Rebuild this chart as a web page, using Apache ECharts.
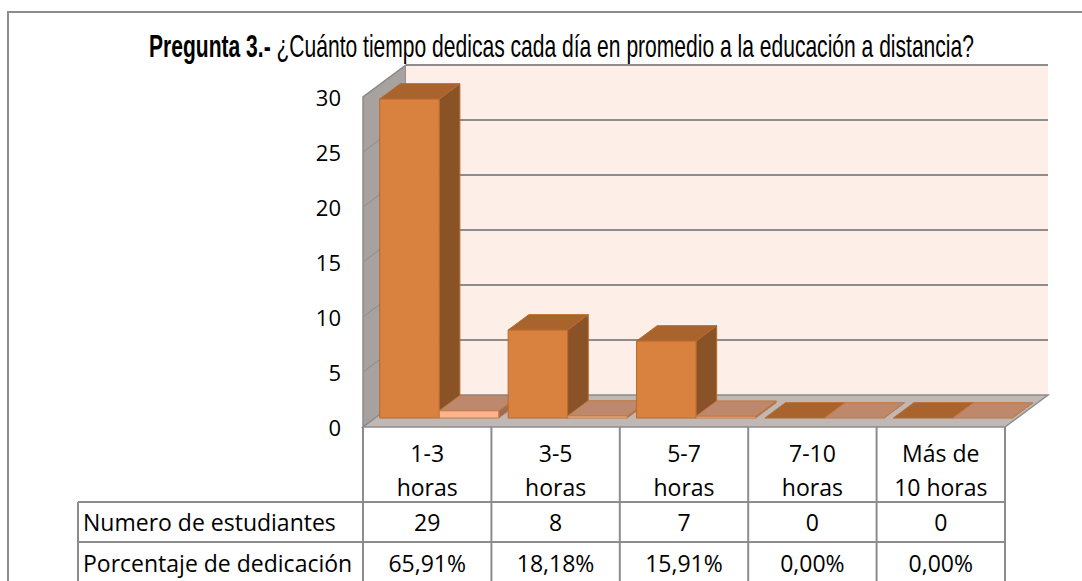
<!DOCTYPE html>
<html><head><meta charset="utf-8">
<script src="https://cdn.jsdelivr.net/npm/echarts@6/dist/echarts.min.js"></script>
<style>html,body{margin:0;padding:0;background:#fff}#c{width:1082px;height:581px}</style>
</head><body><div id="c"></div>
<script>
// ---------- data ----------
const titleBold = 'Pregunta 3.-';
const titleRest = '¿Cuánto tiempo dedicas cada día en promedio a la educación a distancia?';
const categories = ['1-3\nhoras', '3-5\nhoras', '5-7\nhoras', '7-10\nhoras', 'Más de\n10 horas'];
const seriesNames = ['Numero de estudiantes', 'Porcentaje de dedicación'];
const students = [29, 8, 7, 0, 0];
const percentages = [65.91, 18.18, 15.91, 0.00, 0.00];
const yMin = 0, yMax = 30, yInterval = 5;

// ---------- styling / projection constants ----------
const DEPTH = { x: 43, y: -32 };      // 3D depth offset of the back wall (px)
const BAR_Z0 = 0.28, BAR_Z1 = 0.76;   // bar depth range (fraction of depth)
const GAP = 0.073;                    // category gap fraction
const LINE = '#8c8c8c';
const COLORS = [
  { front: '#d9823f', top: '#a9642e', side: '#8a5227', edge: '#b8692b' },
  { front: '#fdb48c', top: '#bd886c', side: '#9c6c53', edge: '#c27a45' }
];
const TABLE_LEFT = 78, HDR_H = 75, ROW_H = 40;
const TXT_FONT = '"Open Sans", sans-serif';

const fmtPct = v => v.toFixed(2).replace('.', ',') + '%';

function wallsItem(params, api) {
  const cs = params.coordSys;
  const L = cs.x, R = cs.x + cs.width;
  const y0 = api.coord([0, yMin])[1], yT = api.coord([0, yMax])[1];
  const dx = DEPTH.x, dy = DEPTH.y;
  const ch = [];
  ch.push({ type: 'polygon', shape: { points: [[L, y0], [L, yT], [L + dx, yT + dy], [L + dx, y0 + dy]] },
    style: { fill: '#a7a29f', stroke: LINE, lineWidth: 1.5 } });
  ch.push({ type: 'rect', shape: { x: L + dx, y: yT + dy, width: R - L, height: y0 - yT },
    style: { fill: '#fdeee8' } });
  for (let v = yMin + yInterval; v <= yMax; v += yInterval) {
    const y = api.coord([0, v])[1];
    ch.push({ type: 'line', shape: { x1: L, y1: y, x2: L + dx, y2: y + dy }, style: { stroke: '#8f8b89', lineWidth: 1 } });
    ch.push({ type: 'line', shape: { x1: L + dx, y1: y + dy, x2: R + dx, y2: y + dy }, style: { stroke: LINE, lineWidth: 2 } });
  }
  ch.push({ type: 'polygon', shape: { points: [[L, y0], [L + dx, y0 + dy], [R + dx, y0 + dy], [R, y0]] },
    style: { fill: '#c0b8b5', stroke: LINE, lineWidth: 1.5 } });
  return { type: 'group', children: ch };
}

function barItem(s) {
  return function (params, api) {
    const i = api.value(0), v = api.value(1);
    const base = api.coord([i, 0]);
    const top = api.coord([i, v]);
    const band = api.size([1, 0])[0];
    const bw = band * (1 - GAP) / 2;
    const ax = DEPTH.x * BAR_Z0, ay = DEPTH.y * BAR_Z0;
    const bx = DEPTH.x * (BAR_Z1 - BAR_Z0), by = DEPTH.y * (BAR_Z1 - BAR_Z0);
    const xl = base[0] - band / 2 + band * GAP / 2 + s * bw + ax;
    const xr = xl + bw;
    const yb = base[1] + ay, yt = top[1] + ay;
    const c = COLORS[s];
    const z = i * 10 + s * 3;
    const ch = [];
    ch.push({ type: 'polygon', z2: z, shape: { points: [[xr, yb], [xr, yt], [xr + bx, yt + by], [xr + bx, yb + by]] },
      style: { fill: c.side, stroke: c.edge, lineWidth: 1 } });
    ch.push({ type: 'polygon', z2: z + 1, shape: { points: [[xl, yt], [xr, yt], [xr + bx, yt + by], [xl + bx, yt + by]] },
      style: { fill: c.top, stroke: c.edge, lineWidth: 1 } });
    if (yb - yt > 0.5) {
      ch.push({ type: 'rect', z2: z + 2, shape: { x: xl, y: yt, width: bw, height: yb - yt },
        style: { fill: c.front, stroke: c.edge, lineWidth: 1 } });
    }
    return { type: 'group', children: ch };
  };
}

function tableItem(params, api) {
  const i = api.value(0);
  const band = api.size([1, 0])[0];
  const cx = api.coord([i, 0])[0], y0 = api.coord([i, 0])[1];
  const xl = cx - band / 2, xr = cx + band / 2;
  const yH = y0 + HDR_H, y1 = yH + ROW_H, y2 = y1 + ROW_H;
  const ch = [];
  const ln = (x1, y1_, x2, y2_) => ch.push({ type: 'line', shape: { x1, y1: y1_, x2, y2: y2_ }, style: { stroke: LINE, lineWidth: 2 } });
  const tx = (text, x, y, align) => ch.push({ type: 'text', x, y,
    style: { text, fill: '#000', fontSize: 23, fontFamily: TXT_FONT, align: align || 'center', verticalAlign: 'middle', lineHeight: 34 } });
  ln(xr, y0, xr, y2 + 10);
  ln(xl, yH, xr, yH);
  ln(xl, y1, xr, y1);
  if (i === 0) {
    ln(xl, y0, xl, y2 + 10);
    ln(TABLE_LEFT, yH, xl, yH);
    ln(TABLE_LEFT, y1, xl, y1);
    ln(TABLE_LEFT, yH, TABLE_LEFT, y2 + 10);
    tx(seriesNames[0], TABLE_LEFT + 5, (yH + y1) / 2, 'left');
    tx(seriesNames[1], TABLE_LEFT + 5, (y1 + y2) / 2 + 1, 'left');
  }
  tx(categories[i], cx, y0 + 43);
  tx(String(students[i]), cx, (yH + y1) / 2);
  tx(fmtPct(percentages[i]), cx, (y1 + y2) / 2 + 1);
  return { type: 'group', children: ch };
}

// ---------- title measurement ----------
const TITLE_FONT = '"Liberation Sans", Arial, sans-serif';
const TITLE_SIZE = 32;
const mctx = document.createElement('canvas').getContext('2d');
mctx.font = 'bold ' + TITLE_SIZE + 'px ' + TITLE_FONT;
const wBold = mctx.measureText(titleBold + ' ').width;
mctx.font = TITLE_SIZE + 'px ' + TITLE_FONT;
const wRest = mctx.measureText(titleRest).width;
const TITLE_X = 149, TITLE_W = 825, TITLE_Y = 46;
const sx = TITLE_W / (wBold + wRest);

const chart = echarts.init(document.getElementById('c'), null, { renderer: 'svg' });
chart.setOption({
  animation: false,
  backgroundColor: '#ffffff',
  grid: { left: 363, right: 77, top: 97, bottom: 154 },
  xAxis: { type: 'category', data: categories, axisLabel: { show: false }, axisLine: { show: false }, axisTick: { show: false } },
  yAxis: { type: 'value', min: yMin, max: yMax, interval: yInterval,
    axisLabel: { color: '#000', fontSize: 22, fontFamily: TXT_FONT, margin: 22 },
    axisLine: { show: false }, axisTick: { show: false }, splitLine: { show: false } },
  graphic: [
    { type: 'rect', z: -10, silent: true, shape: { x: 8, y: 12, width: 1100, height: 620 },
      style: { fill: 'none', stroke: LINE, lineWidth: 2 } },
    { type: 'text', x: TITLE_X, y: TITLE_Y, scaleX: sx, silent: true,
      style: { text: titleBold, fill: '#000', fontSize: TITLE_SIZE, fontWeight: 'bold', fontFamily: TITLE_FONT, align: 'left', verticalAlign: 'middle' } },
    { type: 'text', x: TITLE_X + wBold * sx, y: TITLE_Y, scaleX: sx, silent: true,
      style: { text: titleRest, fill: '#000', fontSize: TITLE_SIZE, fontFamily: TITLE_FONT, align: 'left', verticalAlign: 'middle' } }
  ],
  series: [
    { type: 'custom', name: 'walls', z: 1, silent: true, renderItem: wallsItem, data: [[0, 0]], encode: { x: 0, y: 1 } },
    { type: 'custom', name: seriesNames[0], silent: true, renderItem: barItem(0),
      data: students.map((v, i) => [i, v]), encode: { x: 0, y: 1 } },
    { type: 'custom', name: seriesNames[1], silent: true, renderItem: barItem(1),
      data: percentages.map((v, i) => [i, v / 100]), encode: { x: 0, y: 1 } },
    { type: 'custom', name: 'table', silent: true, renderItem: tableItem,
      data: categories.map((c, i) => [i, 0]), encode: { x: 0, y: 1 } }
  ]
});
</script></body></html>
